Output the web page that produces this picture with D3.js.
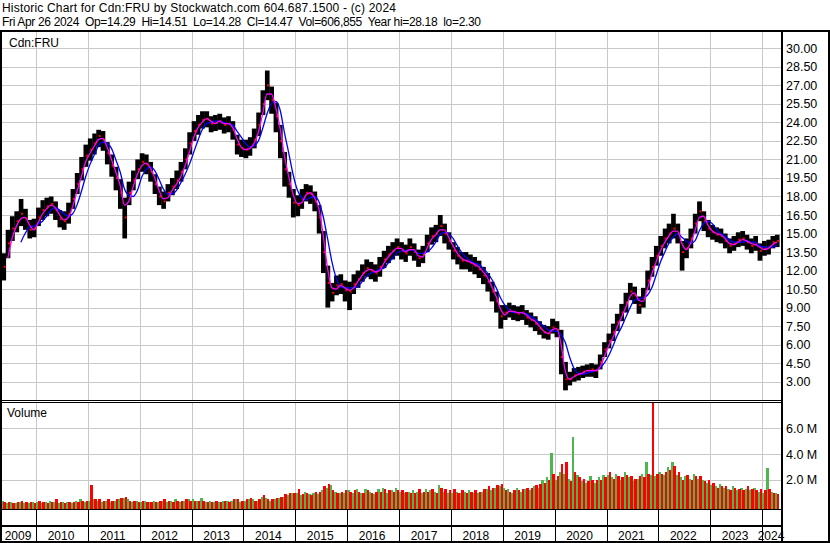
<!DOCTYPE html>
<html>
<head>
<meta charset="utf-8">
<script src="https://d3js.org/d3.v7.min.js"></script>
<style>
  body { margin: 0; background: #fff; }
  svg { display: block; font-family: "Liberation Sans", Arial, sans-serif; }
</style>
</head>
<body>
<div id="chart"></div>
<script>
// monthly readings, May 2009 .. Apr 2024
const hi = [
  13.4,15.3,16.4,16.8,17.8,17.0,16.1,16.2,                        // 2009
  17.1,17.7,17.9,18.0,17.6,16.9,16.8,17.5,18.6,19.9,21.2,22.2,    // 2010
  22.7,23.1,23.4,23.3,22.4,21.4,20.4,19.4,17.9,19.2,20.1,21.0,    // 2011
  21.5,21.4,20.8,19.8,18.8,18.4,19.0,19.5,20.1,20.8,21.9,23.2,    // 2012
  24.1,24.6,24.9,24.9,24.5,24.6,24.7,24.4,24.5,24.1,23.0,22.6,    // 2013
  22.6,22.8,23.5,24.8,26.6,28.2,26.9,25.6,23.8,21.6,20.0,18.6,    // 2014
  18.1,18.6,19.0,18.9,18.4,17.3,15.2,12.4,11.0,11.6,11.7,11.2,    // 2015
  11.1,11.7,12.0,12.5,12.9,12.7,12.5,13.1,13.6,14.0,14.3,14.6,    // 2016
  14.3,14.1,14.6,14.2,13.7,14.0,14.9,15.5,15.7,16.5,15.8,15.1,    // 2017
  14.3,13.9,13.5,13.5,13.3,13.1,12.8,12.3,11.8,11.1,10.3,9.2,     // 2018
  9.2,9.4,9.2,9.1,9.2,8.8,8.6,8.3,7.9,7.6,7.5,8.1,                // 2019
  7.9,7.2,4.6,3.8,4.1,4.2,4.3,4.4,4.5,4.4,5.2,6.2,                // 2020
  6.9,7.7,8.5,9.3,10.2,11.0,10.7,9.9,10.6,12.0,13.1,14.0,         // 2021
  14.8,15.4,15.8,16.6,15.8,14.4,14.6,15.4,16.6,17.6,16.8,16.1,    // 2022
  15.7,15.5,15.4,15.0,14.6,14.8,15.1,15.2,14.9,14.6,14.8,14.2,    // 2023
  14.4,14.5,14.8,14.9                                             // 2024
];
const lo = [
  11.2,13.0,14.4,15.1,15.6,15.3,14.6,14.7,
  15.6,16.1,16.4,16.6,16.1,15.5,15.3,15.8,17.0,18.2,19.3,20.4,
  20.9,21.4,22.0,21.7,20.6,19.6,18.5,17.0,14.6,17.3,18.5,19.4,
  20.0,19.8,19.2,18.2,17.3,17.0,17.6,18.1,18.6,19.2,20.2,21.4,
  22.5,23.0,23.5,23.6,23.2,23.3,23.4,23.1,23.2,22.6,21.4,21.2,
  21.1,21.3,21.9,22.9,24.6,25.8,24.7,23.2,21.1,18.8,17.9,16.3,
  16.4,17.0,17.6,17.4,16.8,15.0,11.8,9.0,9.5,10.0,10.1,9.5,
  8.8,10.1,10.6,11.1,11.5,11.3,11.1,11.5,12.2,12.6,12.9,13.2,
  12.9,12.7,13.2,12.8,12.3,12.6,13.5,14.1,14.3,14.8,14.2,13.7,
  12.9,12.5,12.1,12.1,11.9,11.7,11.4,10.9,10.3,9.5,8.6,7.3,
  8.0,8.2,8.0,7.9,8.0,7.6,7.4,7.1,6.8,6.5,6.4,6.9,
  6.6,3.6,2.3,2.7,3.0,3.1,3.3,3.4,3.4,3.3,4.0,5.0,
  5.7,6.3,7.1,7.9,8.6,9.6,9.3,8.5,9.0,10.4,11.5,12.4,
  13.2,13.8,14.2,14.6,14.2,12.0,13.0,13.8,15.0,16.0,15.2,14.7,
  14.5,14.3,14.2,13.8,13.4,13.6,13.9,14.0,13.7,13.4,13.6,12.8,
  13.2,13.3,13.8,13.9
];
const cl = [
  12.3,14.2,15.4,16.0,16.6,16.2,15.3,15.4,
  16.3,16.9,17.2,17.4,16.9,16.2,16.0,16.6,17.8,19.0,20.2,21.3,
  21.8,22.3,22.9,22.6,21.5,20.5,19.5,18.3,16.3,18.3,19.3,20.2,
  20.8,20.6,20.0,19.0,18.0,17.6,18.3,18.8,19.3,20.0,21.0,22.3,
  23.3,23.8,24.2,24.3,23.9,24.0,24.1,23.8,23.9,23.4,22.2,21.9,
  21.8,22.0,22.6,23.8,25.5,27.0,25.8,24.5,22.5,20.2,19.0,17.5,
  17.3,17.8,18.3,18.2,17.6,16.3,13.5,11.0,10.2,10.8,10.9,10.4,
  10.3,10.9,11.3,11.8,12.2,12.0,11.8,12.3,12.9,13.3,13.6,13.9,
  13.6,13.4,13.9,13.5,13.0,13.3,14.2,14.8,15.0,15.6,15.0,14.4,
  13.6,13.2,12.8,12.8,12.6,12.4,12.1,11.6,11.1,10.3,9.5,8.3,
  8.6,8.8,8.6,8.5,8.6,8.2,8.0,7.7,7.3,7.0,6.9,7.4,
  7.2,5.0,3.2,3.2,3.5,3.6,3.8,3.9,4.0,3.9,4.6,5.6,
  6.3,7.0,7.8,8.6,9.4,10.3,10.0,9.2,9.8,11.2,12.3,13.2,
  14.0,14.6,15.0,15.4,15.0,13.5,13.8,14.6,15.8,16.8,16.0,15.4,
  15.1,14.9,14.8,14.4,14.0,14.2,14.5,14.6,14.3,14.0,14.2,13.6,
  13.8,13.9,14.3,14.4
];
// magenta (short) and blue (long) averages
const maFast = [
  null,13.0,14.6,15.6,16.2,16.3,15.7,15.3,
  15.9,16.6,17.0,17.3,17.1,16.5,16.1,16.3,17.2,18.4,19.6,20.8,
  21.5,22.1,22.6,22.7,22.0,21.0,20.0,18.9,17.3,17.6,18.8,19.8,
  20.5,20.7,20.3,19.5,18.5,17.8,17.9,18.5,19.0,19.6,20.5,21.6,
  22.8,23.6,24.0,24.3,24.1,23.9,24.1,23.9,23.9,23.6,22.7,22.0,
  21.8,21.9,22.3,23.2,24.7,26.3,26.3,25.2,23.5,21.3,19.6,18.2,
  17.4,17.5,18.1,18.3,17.9,17.0,14.9,12.2,10.6,10.5,10.8,10.6,
  10.4,10.6,11.1,11.6,12.0,12.1,11.9,12.0,12.6,13.1,13.5,13.8,
  13.8,13.5,13.7,13.7,13.2,13.1,13.8,14.5,14.9,15.3,15.3,14.7,
  14.0,13.4,13.0,12.8,12.7,12.5,12.3,11.9,11.4,10.7,9.9,8.9,
  8.4,8.7,8.7,8.6,8.6,8.4,8.1,7.9,7.5,7.1,6.9,7.2,
  7.3,6.0,3.9,3.2,3.4,3.6,3.7,3.9,3.9,3.9,4.2,5.0,
  5.9,6.6,7.4,8.2,9.0,9.9,10.2,9.6,9.5,10.5,11.7,12.7,
  13.6,14.3,14.8,15.2,15.2,14.2,13.7,14.2,15.2,16.3,16.4,15.7,
  15.2,15.0,14.9,14.6,14.2,14.1,14.3,14.5,14.4,14.2,14.1,13.9,
  13.7,13.8,14.1,14.3
];
const maSlow = [
  null,null,null,null,14.3,15.0,15.5,15.6,
  15.8,16.0,16.4,16.9,17.1,16.9,16.6,16.4,16.6,17.3,18.4,19.6,
  20.6,21.4,22.1,22.4,22.3,21.9,21.0,20.0,18.6,18.1,18.0,18.5,
  19.6,20.2,20.4,20.1,19.4,18.6,18.2,18.2,18.5,19.1,19.8,20.6,
  21.6,22.6,23.4,23.9,24.0,24.1,24.1,24.0,23.9,23.8,23.3,22.8,
  22.3,22.0,22.1,22.5,23.5,24.7,25.5,25.7,25.0,23.2,21.5,19.8,
  18.5,17.9,17.7,17.9,18.0,17.6,16.4,14.6,12.7,11.4,10.7,10.6,
  10.6,10.6,10.7,11.1,11.5,11.8,11.9,12.1,12.2,12.6,13.0,13.4,
  13.6,13.6,13.7,13.6,13.4,13.4,13.5,13.8,14.3,14.9,15.1,15.0,
  14.6,14.0,13.5,13.1,12.8,12.6,12.5,12.2,11.8,11.3,10.6,9.8,
  9.2,8.8,8.6,8.6,8.6,8.5,8.3,8.1,7.8,7.5,7.2,7.1,
  7.1,6.8,6.2,5.0,4.1,3.7,3.6,3.7,3.8,3.9,4.1,4.5,
  5.1,5.9,6.7,7.4,8.2,9.0,9.6,9.7,9.8,10.0,10.6,11.6,
  12.7,13.5,14.2,14.7,15.0,14.7,14.4,14.2,14.4,15.2,15.8,16.0,
  15.8,15.3,15.0,14.8,14.5,14.3,14.3,14.3,14.4,14.3,14.3,14.0,
  13.9,13.9,13.9,14.1
];
// volume in millions: up days (green) and down days (red)
const volUp = [
  0.4,0.2,0.3,0.2,0.3,0.2,0.2,0.3,
  0.3,0.2,0.3,0.4,0.3,0.2,0.3,0.3,0.2,0.4,0.5,0.3,
  0.4,0.5,0.4,0.3,0.4,0.3,0.4,0.5,0.6,0.5,0.3,0.4,
  0.3,0.4,0.3,0.4,0.3,0.4,0.3,0.4,0.5,0.3,0.4,0.5,
  0.5,0.4,0.6,0.3,0.4,0.3,0.3,0.4,0.4,0.4,0.5,0.3,
  0.4,0.5,0.5,0.4,0.7,0.6,0.4,0.5,0.6,0.7,0.8,1.0,
  1.0,0.8,1.1,0.9,1.0,0.9,1.2,1.4,1.6,1.1,1.0,1.0,
  1.2,1.0,1.3,1.0,1.3,1.1,0.9,1.3,1.4,1.0,1.2,1.4,
  1.1,1.0,1.1,1.2,1.1,1.0,1.3,1.2,1.1,1.6,1.1,1.0,
  1.0,1.1,1.0,1.1,1.2,1.0,1.0,1.1,1.3,1.2,1.4,1.5,
  1.4,1.3,1.0,1.4,1.1,1.3,1.2,1.5,1.4,2.0,2.2,4.1,
  2.0,2.6,2.5,2.1,5.3,2.4,1.9,1.8,2.3,1.8,2.2,2.4,
  2.4,2.2,2.5,2.0,2.6,2.2,1.9,2.1,2.5,3.4,2.4,2.3,
  2.6,2.4,3.0,3.4,2.4,2.2,2.3,2.1,2.5,2.1,2.0,1.8,
  1.6,1.5,1.7,1.4,1.3,1.5,1.2,1.4,1.3,1.2,1.4,1.1,
  1.0,2.9,1.1,1.0
];
const volDown = [
  0.3,0.3,0.2,0.3,0.4,0.3,0.3,0.2,
  0.4,0.3,0.2,0.3,0.5,0.3,0.2,0.3,0.3,0.3,0.4,0.4,
  1.6,0.5,0.5,0.4,0.5,0.4,0.5,0.6,0.7,0.4,0.4,0.3,
  0.4,0.3,0.3,0.3,0.4,0.5,0.4,0.3,0.4,0.4,0.5,0.4,
  0.4,0.4,0.4,0.3,0.3,0.4,0.3,0.4,0.3,0.5,0.5,0.4,
  0.5,0.6,0.4,0.5,0.8,0.5,0.5,0.6,0.7,0.9,1.0,1.0,
  1.3,0.9,1.0,0.8,1.1,1.1,1.5,1.7,1.2,1.0,1.1,1.2,
  1.1,1.2,1.1,1.0,1.2,1.0,1.1,1.1,1.3,1.2,1.1,1.2,
  1.2,1.1,1.0,1.0,1.3,1.1,1.1,1.3,1.0,1.4,1.3,1.2,
  1.3,1.0,1.2,1.0,1.1,1.2,1.1,1.3,1.5,1.4,1.6,1.7,
  1.2,1.1,1.2,1.2,1.3,1.4,1.4,1.6,1.7,1.8,2.0,2.5,
  2.3,3.2,3.4,1.9,2.6,2.2,2.1,1.9,2.0,2.0,2.0,2.2,
  2.6,2.1,2.3,2.2,2.4,2.3,2.1,2.3,2.2,2.5,8.0,2.5,
  2.5,2.6,2.8,3.1,2.6,2.0,2.4,2.0,2.3,2.3,1.9,2.0,
  1.8,1.4,1.5,1.5,1.2,1.4,1.3,1.2,1.5,1.3,1.2,1.3,
  1.2,1.3,1.0,0.9
];
const priceTicks = [3.00,4.50,6.00,7.50,9.00,10.50,12.00,13.50,15.00,16.50,18.00,19.50,21.00,22.50,24.00,25.50,27.00,28.50,30.00];
const volTicks = [2, 4, 6];
const years = d3.range(2009, 2025);

const W = 830, H = 543;
const left = 2, right = 782;
const priceTop = 32, priceBottom = 400;
const volTop = 403, volBottom = 509;

const months = d3.timeMonth.range(new Date(2009, 4, 1), new Date(2024, 4, 1));

const x = d3.scaleTime()
  .domain([new Date(2009, 4, 6), new Date(2024, 4, 21)])
  .range([left, right]);
const y = d3.scaleLinear().domain([3, 30]).range([381.7, 48.3]);
const yv = d3.scaleLinear().domain([0, 6]).range([505.8, 428.3]);

const svg = d3.select('#chart').append('svg')
  .attr('width', W).attr('height', H);

svg.append('rect').attr('width', W).attr('height', H).attr('fill', '#fff');

const defs = svg.append('defs');
defs.append('clipPath').attr('id', 'clipP').append('rect')
  .attr('x', left).attr('y', priceTop).attr('width', right - left).attr('height', priceBottom - priceTop);
defs.append('clipPath').attr('id', 'clipV').append('rect')
  .attr('x', left).attr('y', volTop).attr('width', right - left).attr('height', volBottom - volTop);

// header
svg.append('text').attr('x', 2).attr('y', 11.5)
  .attr('font-size', 12).attr('textLength', 394).attr('lengthAdjust', 'spacing')
  .text('Historic Chart for Cdn:FRU by Stockwatch.com 604.687.1500 - (c) 2024');
svg.append('text').attr('x', 2).attr('y', 25.5)
  .attr('font-size', 12).attr('textLength', 479).attr('lengthAdjust', 'spacing')
  .style('white-space', 'pre')
  .text('Fri Apr 26 2024  Op=14.29  Hi=14.51  Lo=14.28  Cl=14.47  Vol=606,855  Year hi=28.18  lo=2.30');

const yearStarts = years.slice(1).map(yr => new Date(yr, 0, 1));

// grid
const grid = svg.append('g').attr('stroke', '#c8c8c8').attr('stroke-width', 1).attr('shape-rendering', 'crispEdges');
yearStarts.forEach(d => {
  const gx = Math.round(x(d)) + 0.5;
  grid.append('line').attr('x1', gx).attr('x2', gx).attr('y1', priceTop).attr('y2', priceBottom);
  grid.append('line').attr('x1', gx).attr('x2', gx).attr('y1', volTop).attr('y2', volBottom);
});
priceTicks.forEach(t => {
  const gy = Math.round(y(t)) + 0.5;
  grid.append('line').attr('x1', left).attr('x2', right).attr('y1', gy).attr('y2', gy);
});
volTicks.forEach(t => {
  const gy = Math.round(yv(t)) + 0.5;
  grid.append('line').attr('x1', left).attr('x2', right).attr('y1', gy).attr('y2', gy);
});

// price bars
const bw = i => x(d3.timeMonth.offset(months[i], 1)) - x(months[i]);
const pg = svg.append('g').attr('clip-path', 'url(#clipP)');
pg.selectAll('rect.bar').data(months).join('rect')
  .attr('class', 'bar')
  .attr('x', d => x(d))
  .attr('width', (d, i) => bw(i) + 0.4)
  .attr('y', (d, i) => y(hi[i]))
  .attr('height', (d, i) => y(lo[i]) - y(hi[i]))
  .attr('fill', '#000');
pg.selectAll('rect.cls').data(months).join('rect')
  .attr('class', 'cls')
  .attr('x', (d, i) => x(d) + bw(i) - 2)
  .attr('width', 2).attr('height', 2)
  .attr('y', (d, i) => y(cl[i]) - 1)
  .attr('fill', '#ff0000');

const mid = d => d3.timeDay.offset(d, 15);
const lineFast = d3.line().defined((d, i) => maFast[i] != null)
  .x(d => x(mid(d))).y((d, i) => y(maFast[i])).curve(d3.curveMonotoneX);
const lineSlow = d3.line().defined((d, i) => maSlow[i] != null)
  .x(d => x(mid(d))).y((d, i) => y(maSlow[i])).curve(d3.curveMonotoneX);
pg.append('path').attr('d', lineSlow(months)).attr('fill', 'none').attr('stroke', '#0000ff').attr('stroke-width', 1.3);
pg.append('path').attr('d', lineFast(months)).attr('fill', 'none').attr('stroke', '#ff00ff').attr('stroke-width', 1.3);

// volume
const vg = svg.append('g').attr('clip-path', 'url(#clipV)').attr('shape-rendering', 'crispEdges');
vg.selectAll('rect.up').data(months).join('rect')
  .attr('class', 'up')
  .attr('x', d => x(d))
  .attr('width', (d, i) => bw(i) / 2 + 0.3)
  .attr('y', (d, i) => yv(volUp[i]))
  .attr('height', (d, i) => volBottom - yv(volUp[i]))
  .attr('fill', '#4cb84c');
vg.selectAll('rect.dn').data(months).join('rect')
  .attr('class', 'dn')
  .attr('x', (d, i) => x(d) + bw(i) / 2)
  .attr('width', (d, i) => bw(i) / 2 + 0.3)
  .attr('y', (d, i) => yv(volDown[i]))
  .attr('height', (d, i) => volBottom - yv(volDown[i]))
  .attr('fill', '#ff0000');

// frame
const frame = svg.append('g').attr('stroke', '#000').attr('shape-rendering', 'crispEdges');
frame.append('line').attr('x1', 0).attr('x2', W).attr('y1', 31).attr('y2', 31).attr('stroke-width', 2);
frame.append('line').attr('x1', 1).attr('x2', 1).attr('y1', 30).attr('y2', H).attr('stroke-width', 2);
frame.append('line').attr('x1', 782).attr('x2', 782).attr('y1', 30).attr('y2', H).attr('stroke-width', 2);
frame.append('line').attr('x1', 829).attr('x2', 829).attr('y1', 30).attr('y2', H).attr('stroke-width', 2);
frame.append('line').attr('x1', 0).attr('x2', right).attr('y1', 400.5).attr('y2', 400.5).attr('stroke-width', 1);
frame.append('line').attr('x1', 0).attr('x2', right).attr('y1', 402.5).attr('y2', 402.5).attr('stroke-width', 1);
frame.append('line').attr('x1', 0).attr('x2', right).attr('y1', 509.5).attr('y2', 509.5).attr('stroke-width', 1);
frame.append('line').attr('x1', 0).attr('x2', right).attr('y1', 526).attr('y2', 526).attr('stroke-width', 2);
frame.append('line').attr('x1', 0).attr('x2', W).attr('y1', 542).attr('y2', 542).attr('stroke-width', 2);
yearStarts.forEach(d => {
  const gx = Math.round(x(d)) + 0.5;
  frame.append('line').attr('x1', gx).attr('x2', gx).attr('y1', 510).attr('y2', 542).attr('stroke-width', 1);
});

// labels
svg.append('text').attr('x', 9).attr('y', 46.5).attr('font-size', 12).text('Cdn:FRU');
svg.append('text').attr('x', 7).attr('y', 417).attr('font-size', 12).text('Volume');

svg.append('g').selectAll('text').data(priceTicks).join('text')
  .attr('x', 786).attr('y', d => y(d)).attr('dy', '0.36em')
  .attr('font-size', 12.5).attr('fill', '#000')
  .text(d => d.toFixed(2));
svg.append('g').selectAll('text').data(volTicks).join('text')
  .attr('x', 786).attr('y', d => yv(d)).attr('dy', '0.36em')
  .attr('font-size', 12.5).attr('fill', '#000')
  .text(d => d.toFixed(1) + ' M');

svg.append('g').selectAll('text').data(years).join('text')
  .attr('x', yr => {
    const a = Math.max(left, x(new Date(yr, 0, 1)));
    const b = Math.min(right, x(new Date(yr + 1, 0, 1)));
    return yr === 2024 ? 771 : (a + b) / 2 - 1;
  })
  .attr('y', 539.5).attr('text-anchor', 'middle').attr('font-size', 12)
  .text(yr => yr);
</script>
</body>
</html>
